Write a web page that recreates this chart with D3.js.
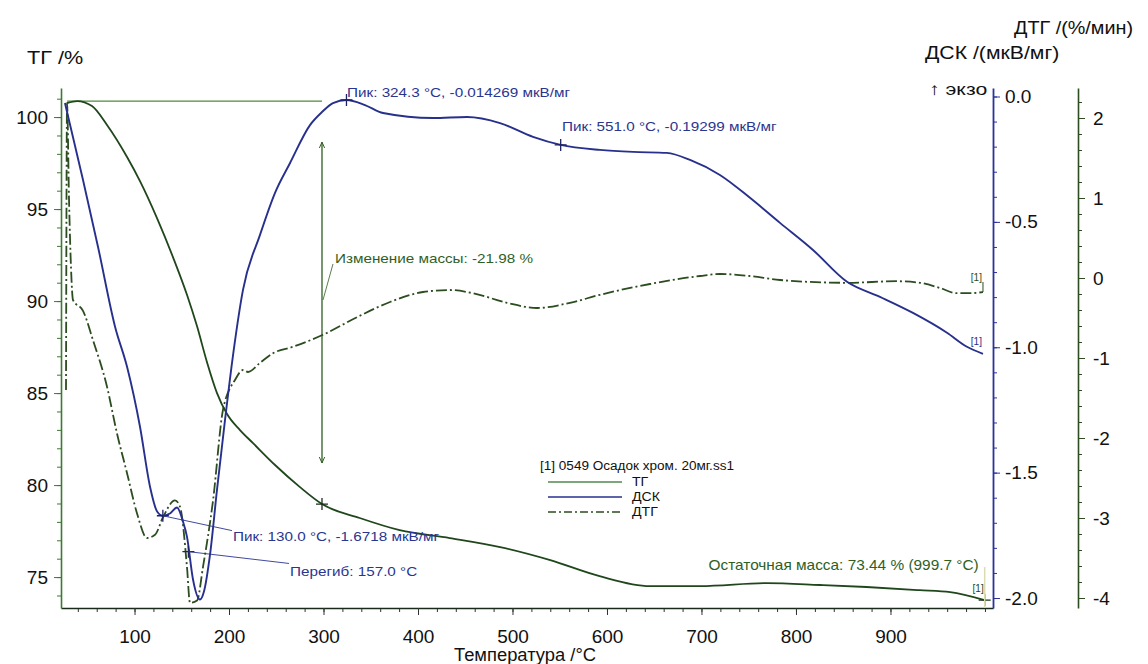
<!DOCTYPE html>
<html><head><meta charset="utf-8">
<script src="https://cdn.jsdelivr.net/npm/d3@7/dist/d3.min.js"></script>
<style>
html,body{margin:0;padding:0;background:#fff;}
svg{display:block;font-family:"Liberation Sans",Arial,sans-serif;}
</style></head>
<body>
<svg id="chart" width="1148" height="664"></svg>
<script>
// ---------- data ----------
const tgT   = [28.6,39.2,55.0,70.9,92.1,105.8,123.8,140.7,155.6,166.1,176.7,187.3,197.9,211.6,225.4,248.7,275.1,298.4,338.3,380.6,433.7,486.9,540.0,592.2,645.3,698.5,769.3,825.4,874.6,930.7,963.2,999.6];
const tgV   = [100.76,100.87,100.6,99.57,97.83,96.52,94.51,92.39,90.33,88.64,86.68,85.0,83.86,82.99,82.28,81.09,79.89,78.97,78.21,77.55,77.12,76.63,75.92,75.05,74.51,74.51,74.67,74.57,74.46,74.29,74.18,73.75];

const dscT  = [26.4,28.6,45.5,61.4,79.4,92.1,105.8,116.4,123.9,130.0,137.5,145.0,151.3,155.5,161.9,169.3,173.5,179.9,187.3,195.8,204.3,214.8,232.8,248.7,264.6,285.7,298.4,310.0,324.3,343.9,363.0,415.8,451.9,486.8,521.7,551.0,592.6,627.5,663.4,687.9,719.5,751.3,783.1,818.0,854.0,888.9,923.8,959.8,980.9,997.9];
const dscV  = [-0.026,-0.062,-0.333,-0.6,-0.918,-1.078,-1.317,-1.556,-1.655,-1.672,-1.663,-1.639,-1.695,-1.755,-1.926,-2.006,-1.974,-1.827,-1.568,-1.289,-1.03,-0.771,-0.552,-0.384,-0.265,-0.114,-0.062,-0.026,-0.014,-0.034,-0.066,-0.086,-0.082,-0.106,-0.161,-0.193,-0.213,-0.221,-0.225,-0.253,-0.313,-0.404,-0.504,-0.612,-0.739,-0.799,-0.863,-0.942,-0.998,-1.026];

const dtgT  = [27.5,28.6,30.7,32.8,34.9,45.5,56.0,70.9,81.4,92.1,102.6,113.2,121.7,130.2,142.8,148.2,155.5,158.7,166.2,172.5,183.1,193.6,206.3,214.8,220.1,232.8,246.6,267.7,299.4,335.4,370.4,405.3,433.8,458.2,494.2,526.0,560.8,592.6,645.5,698.4,719.5,751.3,783.1,854.0,906.9,931.2,952.4,970.4,984.1,997.9];
const dtgV  = [-1.4,2.19,0.975,0.125,-0.275,-0.41,-0.775,-1.36,-1.94,-2.44,-2.94,-3.25,-3.21,-2.99,-2.78,-2.86,-3.61,-4.06,-4.03,-3.61,-2.78,-1.65,-1.275,-1.15,-1.175,-1.06,-0.94,-0.86,-0.71,-0.49,-0.3,-0.175,-0.15,-0.19,-0.31,-0.375,-0.31,-0.21,-0.075,0.025,0.05,0.025,-0.025,-0.06,-0.04,-0.06,-0.125,-0.19,-0.19,-0.175];

const xTicks   = [100,200,300,400,500,600,700,800,900];
const tgTicks  = [75,80,85,90,95,100];
const dscTicks = [-2.0,-1.5,-1.0,-0.5,0.0];
const dtgTicks = [-4,-3,-2,-1,0,1,2];

// annotations
const dscPeaks = [
  {T:324.3, v:-0.014, text:"Пик: 324.3 °C, -0.014269 мкВ/мг", tx:324.9, tv:0.0},
  {T:551.0, v:-0.193, text:"Пик: 551.0 °C, -0.19299 мкВ/мг",  tx:552.4, tv:-0.137},
  {T:130.0, v:-1.672, text:"Пик: 130.0 °C, -1.6718 мкВ/мг",   tx:204.2, tv:-1.771}
];
const inflection = {T:157.0, v:-1.815, text:"Перегиб: 157.0 °C", tx:264.6, tv:-1.914};
const massChange = {T:298.4, from:100.87, top:98.64, bottom:81.2, text:"Изменение массы: -21.98 %", labelTG:92.07};
const tgCross = {T:298.4, v:78.97};
const residual = {T:999.7, v:73.75, text:"Остаточная масса: 73.44 % (999.7 °C)"};
const legendTitle = "[1] 0549 Осадок хром. 20мг.ss1";
const legendItems = ["ТГ","ДСК","ДТГ"];

// ---------- layout ----------
const svg = d3.select("#chart");
const plotTop = 88, plotBottom = 608, plotLeft = 61, plotRight = 993, dtgAxisX = 1078;
const C = {tg:"#20461c", dsc:"#27308c", dtg:"#2b4d1f", axisG:"#3c7a32", axisB:"#2b329a", ann:"#2f5f1f", annB:"#2a3590"};

const x = d3.scaleLinear().domain([22.2, 1008.5]).range([plotLeft, plotRight]);
const yTG = d3.scaleLinear().domain([73.32, 101.58]).range([plotBottom, plotTop]);
const yDSC = d3.scaleLinear().domain([-2.0398, 0.0339]).range([plotBottom, plotTop]);
const yDTG = d3.scaleLinear().domain([-4.125, 2.375]).range([plotBottom, plotTop]);

const hy = f => d => f(d).replace("\u2212", "-");
const tickFont = g => g.selectAll("text").attr("font-size", 19).attr("fill", "#111").attr("font-family", "Liberation Sans, Arial, sans-serif");

// stretched text helper (scan is slightly wider than tall)
const label = (px, py, t, size, col, anchor, sx) => {
  const g = svg.append("g").attr("transform", `translate(${px},${py}) scale(${sx || 1.13},1)`);
  return g.append("text").attr("x", 0).attr("y", 0).attr("font-size", size).attr("fill", col)
    .attr("text-anchor", anchor || "start").text(t);
};

// bottom axis
const gx = svg.append("g").attr("transform", `translate(0,${plotBottom})`);
gx.call(d3.axisBottom(x).tickValues(d3.range(40, 1001, 20)).tickSize(4).tickFormat(""));
gx.call(g => g.select(".domain").remove());
gx.selectAll("line").attr("stroke", "#333");
const gx2 = svg.append("g").attr("transform", `translate(0,${plotBottom})`)
  .call(d3.axisBottom(x).tickValues(xTicks).tickSize(7).tickPadding(15).tickSizeOuter(0).tickFormat(d3.format("d")));
gx2.call(tickFont);
gx2.select(".domain").attr("stroke", "#1a2a1a").attr("stroke-width", 1.6);
gx2.selectAll("line").attr("stroke", "#333");

// left TG axis
const gl0 = svg.append("g").attr("transform", `translate(${plotLeft},0)`)
  .call(d3.axisLeft(yTG).tickValues(d3.range(74, 102, 1)).tickSize(4).tickFormat(""));
gl0.select(".domain").remove();
gl0.selectAll("line").attr("stroke", C.axisG);
const gl = svg.append("g").attr("transform", `translate(${plotLeft},0)`)
  .call(d3.axisLeft(yTG).tickValues(tgTicks).tickSize(7).tickPadding(6).tickSizeOuter(0));
gl.call(tickFont);
gl.select(".domain").attr("stroke", C.axisG).attr("stroke-width", 1.6);
gl.selectAll("line").attr("stroke", C.axisG);

// right DSC axis
const gd0 = svg.append("g").attr("transform", `translate(${plotRight},0)`)
  .call(d3.axisRight(yDSC).tickValues(d3.range(-20, 1, 1).map(d => d / 10)).tickSize(4).tickFormat(""));
gd0.select(".domain").remove();
gd0.selectAll("line").attr("stroke", C.axisB);
const gd = svg.append("g").attr("transform", `translate(${plotRight},0)`)
  .call(d3.axisRight(yDSC).tickValues(dscTicks).tickSize(7).tickPadding(5).tickSizeOuter(0).tickFormat(hy(d3.format(".1f"))));
gd.call(tickFont);
gd.select(".domain").attr("stroke", C.axisB).attr("stroke-width", 1.8);
gd.selectAll("line").attr("stroke", C.axisB);

// right DTG axis
const gt0 = svg.append("g").attr("transform", `translate(${dtgAxisX},0)`)
  .call(d3.axisRight(yDTG).tickValues(d3.range(-20, 12, 1).map(d => d / 5)).tickSize(4).tickFormat(""));
gt0.select(".domain").remove();
gt0.selectAll("line").attr("stroke", C.dtg);
const gt = svg.append("g").attr("transform", `translate(${dtgAxisX},0)`)
  .call(d3.axisRight(yDTG).tickValues(dtgTicks).tickSize(7).tickPadding(8).tickSizeOuter(0).tickFormat(hy(d3.format("d"))));
gt.call(tickFont);
gt.select(".domain").attr("stroke", C.dtg).attr("stroke-width", 1.6);
gt.selectAll("line").attr("stroke", C.dtg);

// axis titles
label(27, 64, "ТГ /%", 18, "#111", "start", 1.2);
label(1014, 34, "ДТГ /(%/мин)", 18, "#111", "start", 1.1);
label(925, 59, "ДСК /(мкВ/мг)", 18, "#111", "start", 1.18);
label(929, 95, "↑ экзо", 17, "#111", "start", 1.25);
label(525, 661, "Температура /°C", 17.5, "#111", "middle", 1.05);

// ---------- reference line and mass change arrow ----------
const defs = svg.append("defs");
defs.append("marker").attr("id", "arr").attr("viewBox", "0 0 10 10").attr("refX", 9).attr("refY", 5)
  .attr("markerWidth", 7).attr("markerHeight", 9).attr("orient", "auto-start-reverse")
  .attr("markerUnits", "userSpaceOnUse")
  .append("path").attr("d", "M0,1 L9,5 L0,9").attr("fill", "none").attr("stroke", C.ann).attr("stroke-width", 1.4);

svg.append("line").attr("x1", x(tgT[0])).attr("x2", x(massChange.T))
  .attr("y1", yTG(massChange.from)).attr("y2", yTG(massChange.from))
  .attr("stroke", "#4f8a3f").attr("stroke-width", 1.3);
svg.append("line").attr("x1", x(massChange.T)).attr("x2", x(massChange.T))
  .attr("y1", yTG(massChange.top)).attr("y2", yTG(massChange.bottom))
  .attr("stroke", C.ann).attr("stroke-width", 1.3)
  .attr("marker-start", "url(#arr)").attr("marker-end", "url(#arr)");
svg.append("line").attr("x1", x(massChange.T) + 1).attr("y1", yTG(massChange.labelTG) + 37)
  .attr("x2", x(massChange.T) + 11).attr("y2", yTG(massChange.labelTG) + 1)
  .attr("stroke", C.ann).attr("stroke-width", 0.8);
label(x(massChange.T) + 13, yTG(massChange.labelTG), massChange.text, 13.5, C.ann);

// ---------- curves ----------
const mk = (T, V, ys) => d3.line().x((d, i) => x(T[i])).y((d, i) => ys(V[i])).curve(d3.curveMonotoneX)(T);
svg.append("path").attr("d", mk(dtgT, dtgV, yDTG)).attr("fill", "none").attr("stroke", C.dtg)
  .attr("stroke-width", 1.8).attr("stroke-dasharray", "11,3,2,3");
svg.append("path").attr("d", mk(tgT, tgV, yTG)).attr("fill", "none").attr("stroke", C.tg).attr("stroke-width", 1.8);
svg.append("path").attr("d", mk(dscT, dscV, yDSC)).attr("fill", "none").attr("stroke", C.dsc).attr("stroke-width", 1.9);

// ---------- markers & labels ----------
const cross = (cx, cy, col) => {
  svg.append("path").attr("d", `M${cx - 6},${cy} H${cx + 6} M${cx},${cy - 6} V${cy + 6}`)
    .attr("stroke", col).attr("stroke-width", 1.3).attr("fill", "none");
};
dscPeaks.forEach((p, i) => {
  cross(x(p.T), yDSC(p.v), "#1d2266");
  if (i === 2) {
    svg.append("line").attr("x1", x(p.T)).attr("y1", yDSC(p.v)).attr("x2", x(p.tx) - 1).attr("y2", yDSC(p.tv) - 10)
      .attr("stroke", C.annB).attr("stroke-width", 0.9);
  }
  label(x(p.tx), yDSC(p.tv), p.text, 13.5, C.annB);
});
cross(x(inflection.T), yDSC(inflection.v), "#1d2266");
svg.append("line").attr("x1", x(inflection.T)).attr("y1", yDSC(inflection.v)).attr("x2", x(inflection.tx) - 1).attr("y2", yDSC(inflection.tv) - 13)
  .attr("stroke", C.annB).attr("stroke-width", 0.9);
label(x(inflection.tx), yDSC(inflection.tv), inflection.text, 13.5, C.annB);

cross(x(tgCross.T), yTG(tgCross.v), "#1b301b");
cross(x(residual.T), yTG(residual.v), "#1b301b");
svg.append("line").attr("x1", x(residual.T)).attr("x2", x(residual.T))
  .attr("y1", yTG(residual.v) - 33).attr("y2", plotBottom).attr("stroke", "#d9dcae").attr("stroke-width", 1.5);
label(x(residual.T) - 6, yTG(residual.v) - 30, residual.text, 14, C.ann, "end", 1.1);

// [1] end tags
const tag = (T, yv, col, dy) => {
  svg.append("text").attr("x", x(T) - 1).attr("y", yv + dy).attr("text-anchor", "end")
    .attr("font-size", 10).attr("fill", col).text("[1]");
};
tag(dtgT[dtgT.length - 1], yDTG(dtgV[dtgV.length - 1]), C.dtg, -11);
svg.append("line").attr("x1", x(dtgT[dtgT.length - 1])).attr("x2", x(dtgT[dtgT.length - 1]))
  .attr("y1", yDTG(dtgV[dtgV.length - 1]) - 10).attr("y2", yDTG(dtgV[dtgV.length - 1]))
  .attr("stroke", C.dtg).attr("stroke-width", 1);
tag(dscT[dscT.length - 1], yDSC(dscV[dscV.length - 1]), C.dsc, -9);
tag(residual.T, yTG(residual.v), C.tg, -8);

// ---------- legend ----------
const lg = svg.append("g").attr("transform", "translate(540,0)");
lg.append("g").attr("transform", "translate(0,470) scale(1.13,1)")
  .append("text").attr("font-size", 12).attr("fill", "#111").text(legendTitle);
const legStyles = [
  {col:"#4f8a4f", dash:null},
  {col:C.dsc, dash:null},
  {col:C.dtg, dash:"8,3,2,3"}
];
legendItems.forEach((name, i) => {
  const yy = 482 + i * 15;
  lg.append("line").attr("x1", 8).attr("x2", 82).attr("y1", yy).attr("y2", yy)
    .attr("stroke", legStyles[i].col).attr("stroke-width", 1.4)
    .attr("stroke-dasharray", legStyles[i].dash);
  lg.append("g").attr("transform", `translate(92,${yy + 4}) scale(1.13,1)`)
    .append("text").attr("font-size", 12.5).attr("fill", "#111").text(name);
});
</script>
</body></html>
